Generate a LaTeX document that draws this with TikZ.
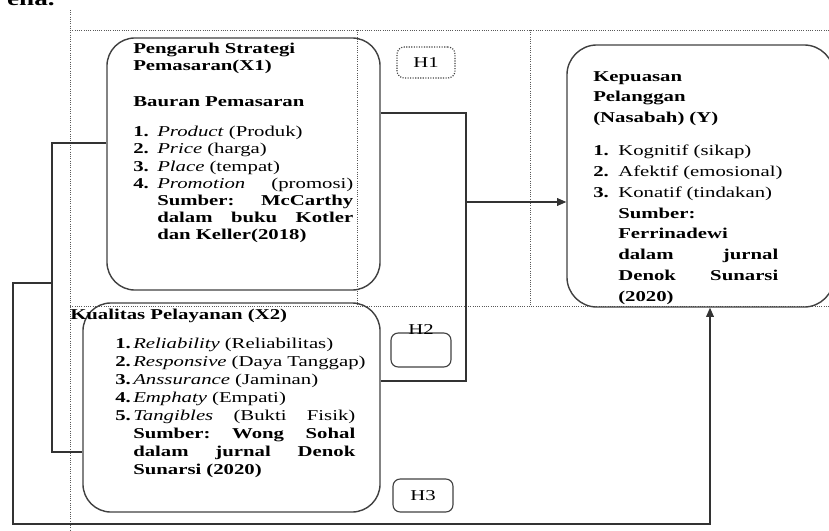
\documentclass[tikz,border=0pt]{standalone}
\usepackage{fontspec}
\setmainfont{Liberation Serif}[FakeStretch=1.38]
\usepackage{tikz}
\usetikzlibrary{arrows.meta}
\newcommand{\nr}[2][0.6cm]{\makebox[#1][l]{\textbf{#2}}}
\hyphenpenalty=10000

\begin{document}
\begin{tikzpicture}[
        x=0.025cm, y=-0.025cm,
        varbox/.style={draw=black!75, line width=1pt, rounded corners=0.7cm, inner sep=0pt},
        hyp/.style={draw=black!75, line width=0.8pt, rounded corners=0.18cm, minimum width=1.5cm, minimum height=0.85cm, inner sep=0pt, font=\fontsize{10.7}{12}\selectfont},
        txt/.style={font=\fontsize{10.7}{12.2}\selectfont, inner sep=0pt, align=left, anchor=north west},
        grid/.style={densely dotted, draw=black!65, line width=0.6pt},
        conn/.style={draw=black!80, line width=0.85pt},
        arr/.style={conn, -{Triangle[length=6.5pt, width=5.5pt]}}
    ]
    \clip (0,0) rectangle (829,531);
    % cut-off text at the top
    \node[font=\bfseries\fontsize{14}{14}\selectfont, anchor=base east, inner sep=0pt] (enatxt) at (55,6) {ena.};

    % dotted frame
    \draw[grid] (70,10) -- (70,531);
    \draw[grid] (70,30) -- (829,30);
    \draw[grid] (357,30) -- (357,306);
    \draw[grid] (530,30) -- (530,306);
    \draw[grid] (70,306) -- (829,306);

    % variable boxes
    \node[varbox, minimum width=6.825cm, minimum height=6.3cm] (x1) at (243.5,164) {};
    \node[varbox, minimum width=7.425cm, minimum height=5.225cm] (x2) at (231.5,407.5) {};
    \node[varbox, rounded corners=0.75cm, minimum width=6.675cm, minimum height=6.55cm] (y) at (700.5,176) {};

    % X1 text
    \node[txt, text width=5.5cm] (x1txt) at (133,42.5) {%
        \textbf{Pengaruh Strategi}\\
        \textbf{Pemasaran(X1)}\\[0.47cm]
        \textbf{Bauran Pemasaran}\\[0.33cm]
        \nr{1.}\textit{Product} (Produk)\\
        \nr{2.}\textit{Price} (harga)\\
        \nr{3.}\textit{Place} (tempat)\\
        \nr{4.}\textit{Promotion}\hfill(promosi)\\
        \hspace*{0.6cm}\textbf{Sumber:\hfill McCarthy}\\
        \hspace*{0.6cm}\textbf{dalam\hfill buku\hfill Kotler}\\
        \hspace*{0.6cm}\textbf{dan Keller(2018)}};

    % X2 text
    \node[txt, anchor=base west] (x2head) at (70,319) {\textbf{Kualitas Pelayanan (X2)}};
    \node[txt, text width=6cm, font=\fontsize{10.7}{12.8}\selectfont] (x2txt) at (115,337.5) {%
        \nr[0.45cm]{1.}\textit{Reliability} (Reliabilitas)\\
        \mbox{\nr[0.45cm]{2.}\textit{Responsive} (Daya Tanggap)}\\
        \nr[0.45cm]{3.}\textit{Anssurance} (Jaminan)\\
        \nr[0.45cm]{4.}\textit{Emphaty} (Empati)\\
        \nr[0.45cm]{5.}\textit{Tangibles}\hfill(Bukti\hfill Fisik)\\
        \hspace*{0.45cm}\textbf{Sumber:\hfill Wong\hfill Sohal}\\
        \hspace*{0.45cm}\textbf{dalam\hfill jurnal\hfill Denok}\\
        \hspace*{0.45cm}\textbf{Sunarsi (2020)}};

    % Y text
    \node[txt, text width=4.625cm, font=\fontsize{10.7}{14.8}\selectfont] (ytxt) at (593,71) {%
        \textbf{Kepuasan}\\
        \textbf{Pelanggan}\\
        \textbf{(Nasabah) (Y)}\\[0.3cm]
        \mbox{\nr[0.625cm]{1.}Kognitif (sikap)}\\
        \mbox{\nr[0.625cm]{2.}Afektif (emosional)}\\
        \mbox{\nr[0.625cm]{3.}Konatif (tindakan)}\\
        \hspace*{0.625cm}\textbf{Sumber:}\\
        \hspace*{0.625cm}\textbf{Ferrinadewi}\\
        \hspace*{0.625cm}\textbf{dalam\hfill jurnal}\\
        \hspace*{0.625cm}\textbf{Denok\hfill Sunarsi}\\
        \hspace*{0.625cm}\textbf{(2020)}};

    % hypotheses
    \node[hyp, densely dotted, minimum width=1.45cm, minimum height=0.775cm] (h1) at (426,62.5) {H1};
    \node[hyp] (h2) at (421,350) {};
    \node[txt, anchor=center] (h2txt) at (421,330) {H2};
    \node[hyp, minimum height=0.825cm] (h3) at (423,495.5) {H3};

    % joints
    \coordinate (j1) at (466,113);
    \coordinate (j2) at (466,381);
    \coordinate (j3) at (466,202);
    \coordinate (b1) at (52,143);
    \coordinate (b2) at (52,452);
    \coordinate (b3) at (52,283);
    \coordinate (l1) at (13,283);
    \coordinate (l2) at (13,524);
    \coordinate (l3) at (710,524);

    % connectors
    \draw[conn] (x1.east |- j1) -- (j1) -- (j2) -- (x2.east |- j2);
    \draw[arr] (j3) -- (y.west |- j3);
    \draw[conn] (x1.west |- b1) -- (b1) -- (b2) -- (x2.west |- b2);
    \draw[arr] (b3) -- (l1) -- (l2) -- (l3) -- (y.south -| l3);

\end{tikzpicture}
\end{document}
